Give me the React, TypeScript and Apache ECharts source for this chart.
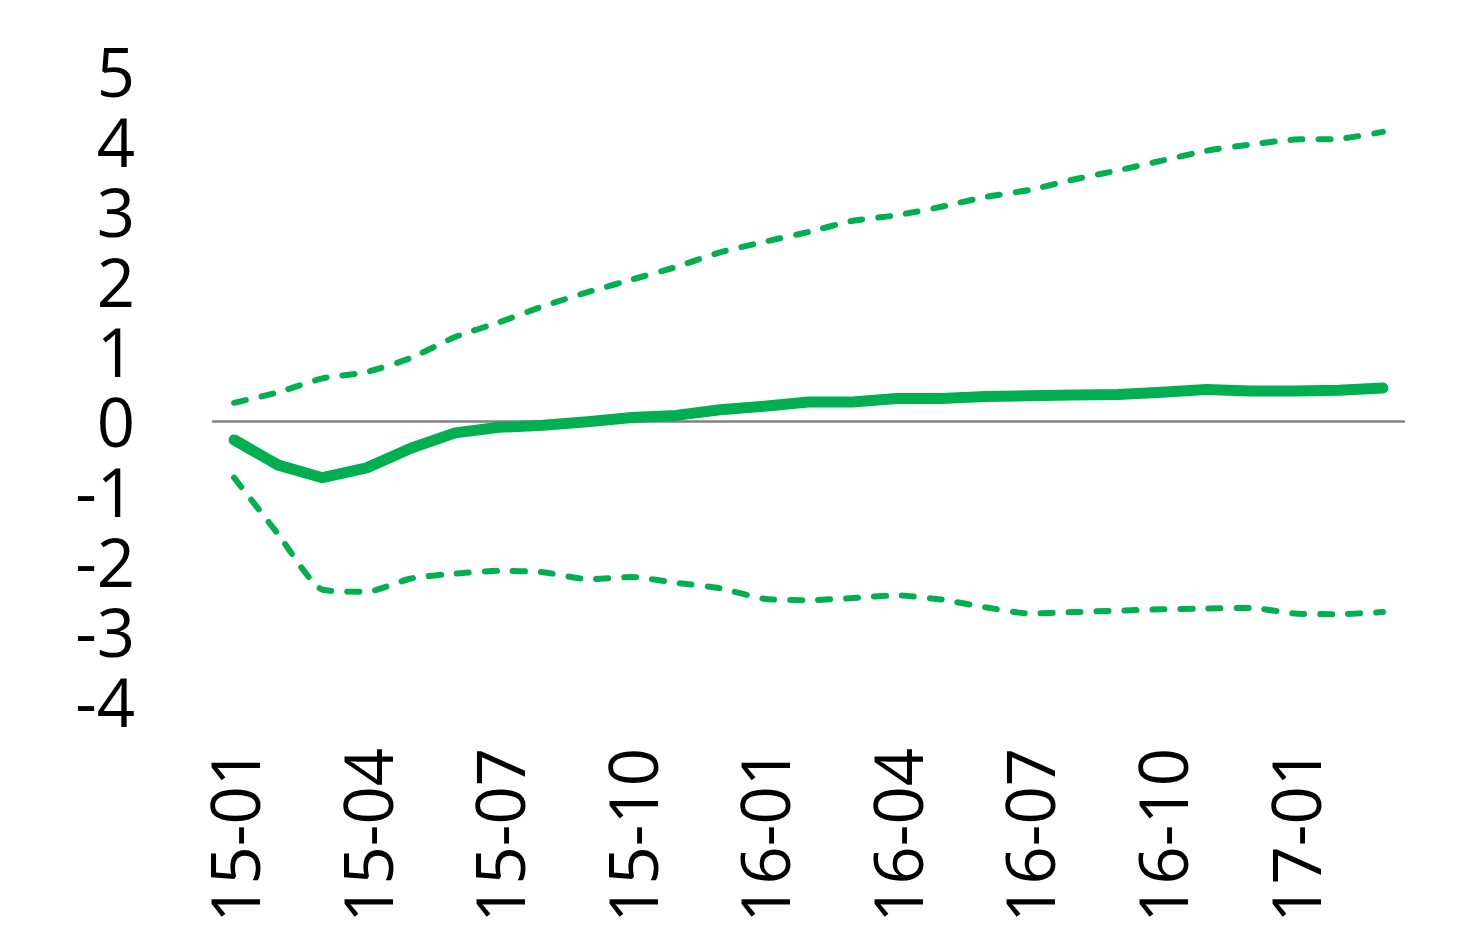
import React, { useEffect, useRef } from "react";
import * as echarts from "echarts";

const categories = [
  "15-01", "15-02", "15-03", "15-04", "15-05", "15-06", "15-07", "15-08", "15-09",
  "15-10", "15-11", "15-12", "16-01", "16-02", "16-03", "16-04", "16-05", "16-06",
  "16-07", "16-08", "16-09", "16-10", "16-11", "16-12", "17-01", "17-02", "17-03",
];

const meanValues = [
  -0.27, -0.63, -0.81, -0.67, -0.39, -0.17, -0.09, -0.06, -0.01, 0.05, 0.08, 0.16, 0.21,
  0.27, 0.27, 0.32, 0.32, 0.35, 0.36, 0.37, 0.38, 0.41, 0.45, 0.43, 0.43, 0.44, 0.47,
];

const upperValues = [
  0.26, 0.41, 0.61, 0.7, 0.9, 1.2, 1.41, 1.64, 1.84, 2.02, 2.2, 2.41, 2.56, 2.7, 2.86,
  2.94, 3.06, 3.2, 3.3, 3.45, 3.58, 3.72, 3.86, 3.95, 4.02, 4.03, 4.13,
];

const lowerValues = [
  -0.81, -1.62, -2.41, -2.44, -2.25, -2.18, -2.14, -2.16, -2.26, -2.23, -2.31, -2.39,
  -2.54, -2.56, -2.53, -2.49, -2.55, -2.66, -2.75, -2.73, -2.71, -2.69, -2.68, -2.67,
  -2.75, -2.76, -2.73,
];

const GREEN = "#00B050";
const FONT = "'Open Sans', 'Noto Sans', sans-serif";

export default function App() {
  const ref = useRef<HTMLDivElement>(null);

  useEffect(() => {
    if (!ref.current) return;
    const chart = echarts.init(ref.current, null, { renderer: "svg" });
    chart.setOption({
      animation: false,
      backgroundColor: "#ffffff",
      grid: { left: 212, right: 73, top: 71, bottom: 247 },
      xAxis: {
        type: "category",
        data: categories,
        boundaryGap: true,
        axisLine: { show: false },
        axisTick: { show: false },
        splitLine: { show: false },
        axisLabel: {
          interval: 2,
          rotate: 90,
          margin: 47,
          fontSize: 67,
          lineHeight: 60,
          fontFamily: FONT,
          color: "#000000",
        },
      },
      yAxis: {
        type: "value",
        min: -4,
        max: 5,
        interval: 1,
        axisLine: { show: false },
        axisTick: { show: false },
        splitLine: { show: false },
        axisLabel: {
          margin: 77,
          fontSize: 67,
          lineHeight: 60,
          fontFamily: FONT,
          color: "#000000",
        },
      },
      series: [
        {
          name: "upper",
          type: "line",
          data: upperValues,
          symbol: "none",
          smooth: 0.2,
          lineStyle: { color: GREEN, width: 6, type: [12, 16], cap: "round" },
        },
        {
          name: "lower",
          type: "line",
          data: lowerValues,
          symbol: "none",
          smooth: 0.2,
          lineStyle: { color: GREEN, width: 6, type: [12, 16], cap: "round" },
        },
        {
          name: "mean",
          type: "line",
          data: meanValues,
          symbol: "none",
          z: 3,
          lineStyle: { color: GREEN, width: 11, cap: "round", join: "round" },
          markLine: {
            silent: true,
            symbol: "none",
            label: { show: false },
            lineStyle: { color: "#808080", width: 2.5, type: "solid" },
            data: [{ yAxis: 0 }],
            z: 1,
          },
        },
      ],
    });
    return () => chart.dispose();
  }, []);

  return (
    <div
      ref={ref}
      style={{ position: "absolute", left: 0, top: 0, width: 1478, height: 948 }}
    />
  );
}
